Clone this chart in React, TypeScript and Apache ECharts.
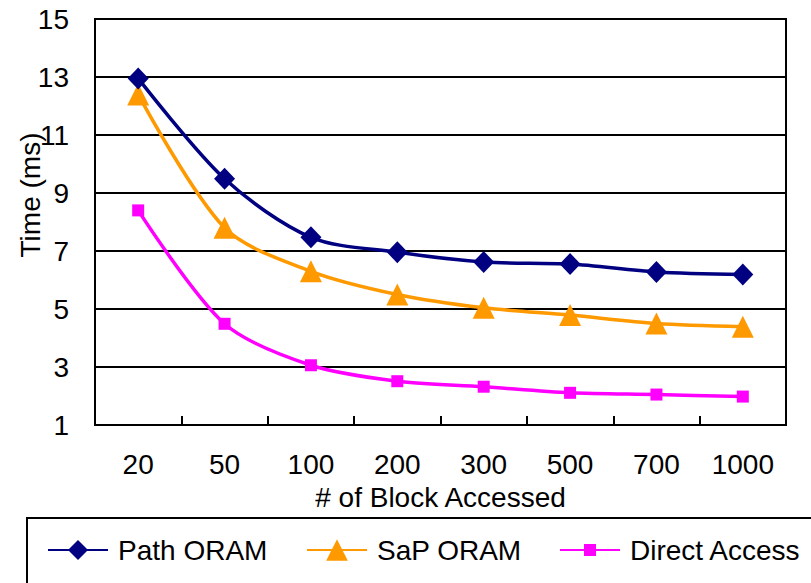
import React, { useEffect, useRef } from "react";
import * as echarts from "echarts";

const categories = ["20", "50", "100", "200", "300", "500", "700", "1000"];
const pathOram = [12.95, 9.49, 7.47, 6.96, 6.62, 6.55, 6.28, 6.19];
const sapOram = [12.4, 7.8, 6.3, 5.5, 5.04, 4.79, 4.5, 4.39];
const directAccess = [8.4, 4.49, 3.06, 2.51, 2.32, 2.11, 2.05, 1.98];
const seriesNames = ["Path ORAM", "SaP ORAM", "Direct Access"];
const yMin = 1;
const yMax = 15;
const yStep = 2;
const xTitle = "# of Block Accessed";
const yTitle = "Time (ms)";

const FONT = "Liberation Sans";

export default function App() {
  const ref = useRef<HTMLDivElement>(null);
  useEffect(() => {
    if (!ref.current) return;
    const chart = echarts.init(ref.current, null, { renderer: "svg" });
    const legendBase = {
      orient: "horizontal",
      top: 536,
      padding: 0,
      itemWidth: 60,
      textStyle: { fontFamily: FONT, fontSize: 28, color: "#000", padding: [0, 0, 0, 5] },
      selectedMode: false,
    };
    chart.setOption({
      animation: false,
      backgroundColor: "#fff",
      textStyle: { fontFamily: FONT },
      grid: {
        left: 95,
        right: 811 - 786,
        top: 19,
        bottom: 583 - 425,
        show: true,
        borderColor: "#000",
        borderWidth: 2,
      },
      legend: [
        { ...legendBase, left: 47, itemHeight: 25, data: [seriesNames[0]] },
        { ...legendBase, left: 306, itemHeight: 27, data: [seriesNames[1]] },
        { ...legendBase, left: 559, itemHeight: 15, data: [seriesNames[2]] },
      ],
      graphic: [
        {
          type: "rect",
          shape: { x: 27, y: 518, width: 820, height: 100 },
          style: { fill: "none", stroke: "#000", lineWidth: 2 },
          z: 0,
        },
        {
          type: "text",
          x: 30,
          y: 195,
          rotation: Math.PI / 2,
          style: {
            text: yTitle,
            fontFamily: FONT,
            fontSize: 28,
            fill: "#000",
            align: "center",
            verticalAlign: "middle",
          },
        },
      ],
      xAxis: {
        type: "category",
        data: categories,
        boundaryGap: true,
        name: xTitle,
        nameLocation: "middle",
        nameGap: 58,
        nameTextStyle: { fontFamily: FONT, fontSize: 28, color: "#000" },
        axisLine: { lineStyle: { color: "#000", width: 2 } },
        axisTick: { show: true, inside: true, length: 9, lineStyle: { color: "#000", width: 2 } },
        axisLabel: { fontFamily: FONT, fontSize: 28, color: "#000", margin: 25 },
        splitLine: { show: false },
      },
      yAxis: {
        type: "value",
        min: yMin,
        max: yMax,
        interval: yStep,
        axisLine: { show: true, lineStyle: { color: "#000", width: 2 } },
        axisTick: { show: false },
        axisLabel: { fontFamily: FONT, fontSize: 28, color: "#000", margin: 26 },
        splitLine: { show: true, lineStyle: { color: "#000", width: 2 } },
      },
      series: [
        {
          name: seriesNames[0],
          type: "line",
          data: pathOram,
          smooth: 0.3,
          symbol: "diamond",
          symbolSize: [21, 22],
          lineStyle: { color: "#000080", width: 3.5 },
          itemStyle: { color: "#000080" },
          z: 3,
        },
        {
          name: seriesNames[1],
          type: "line",
          data: sapOram,
          smooth: 0.3,
          symbol: "triangle",
          symbolSize: [22, 22],
          lineStyle: { color: "#FF9900", width: 3.5 },
          itemStyle: { color: "#FF9900" },
          z: 2,
        },
        {
          name: seriesNames[2],
          type: "line",
          data: directAccess,
          smooth: 0.3,
          symbol: "rect",
          symbolSize: 12,
          lineStyle: { color: "#FF00FF", width: 3.5 },
          itemStyle: { color: "#FF00FF" },
          z: 1,
        },
      ],
    });
    return () => chart.dispose();
  }, []);
  return (
    <div
      ref={ref}
      style={{ position: "fixed", left: 0, top: 0, width: 811, height: 583, background: "#fff" }}
    />
  );
}
